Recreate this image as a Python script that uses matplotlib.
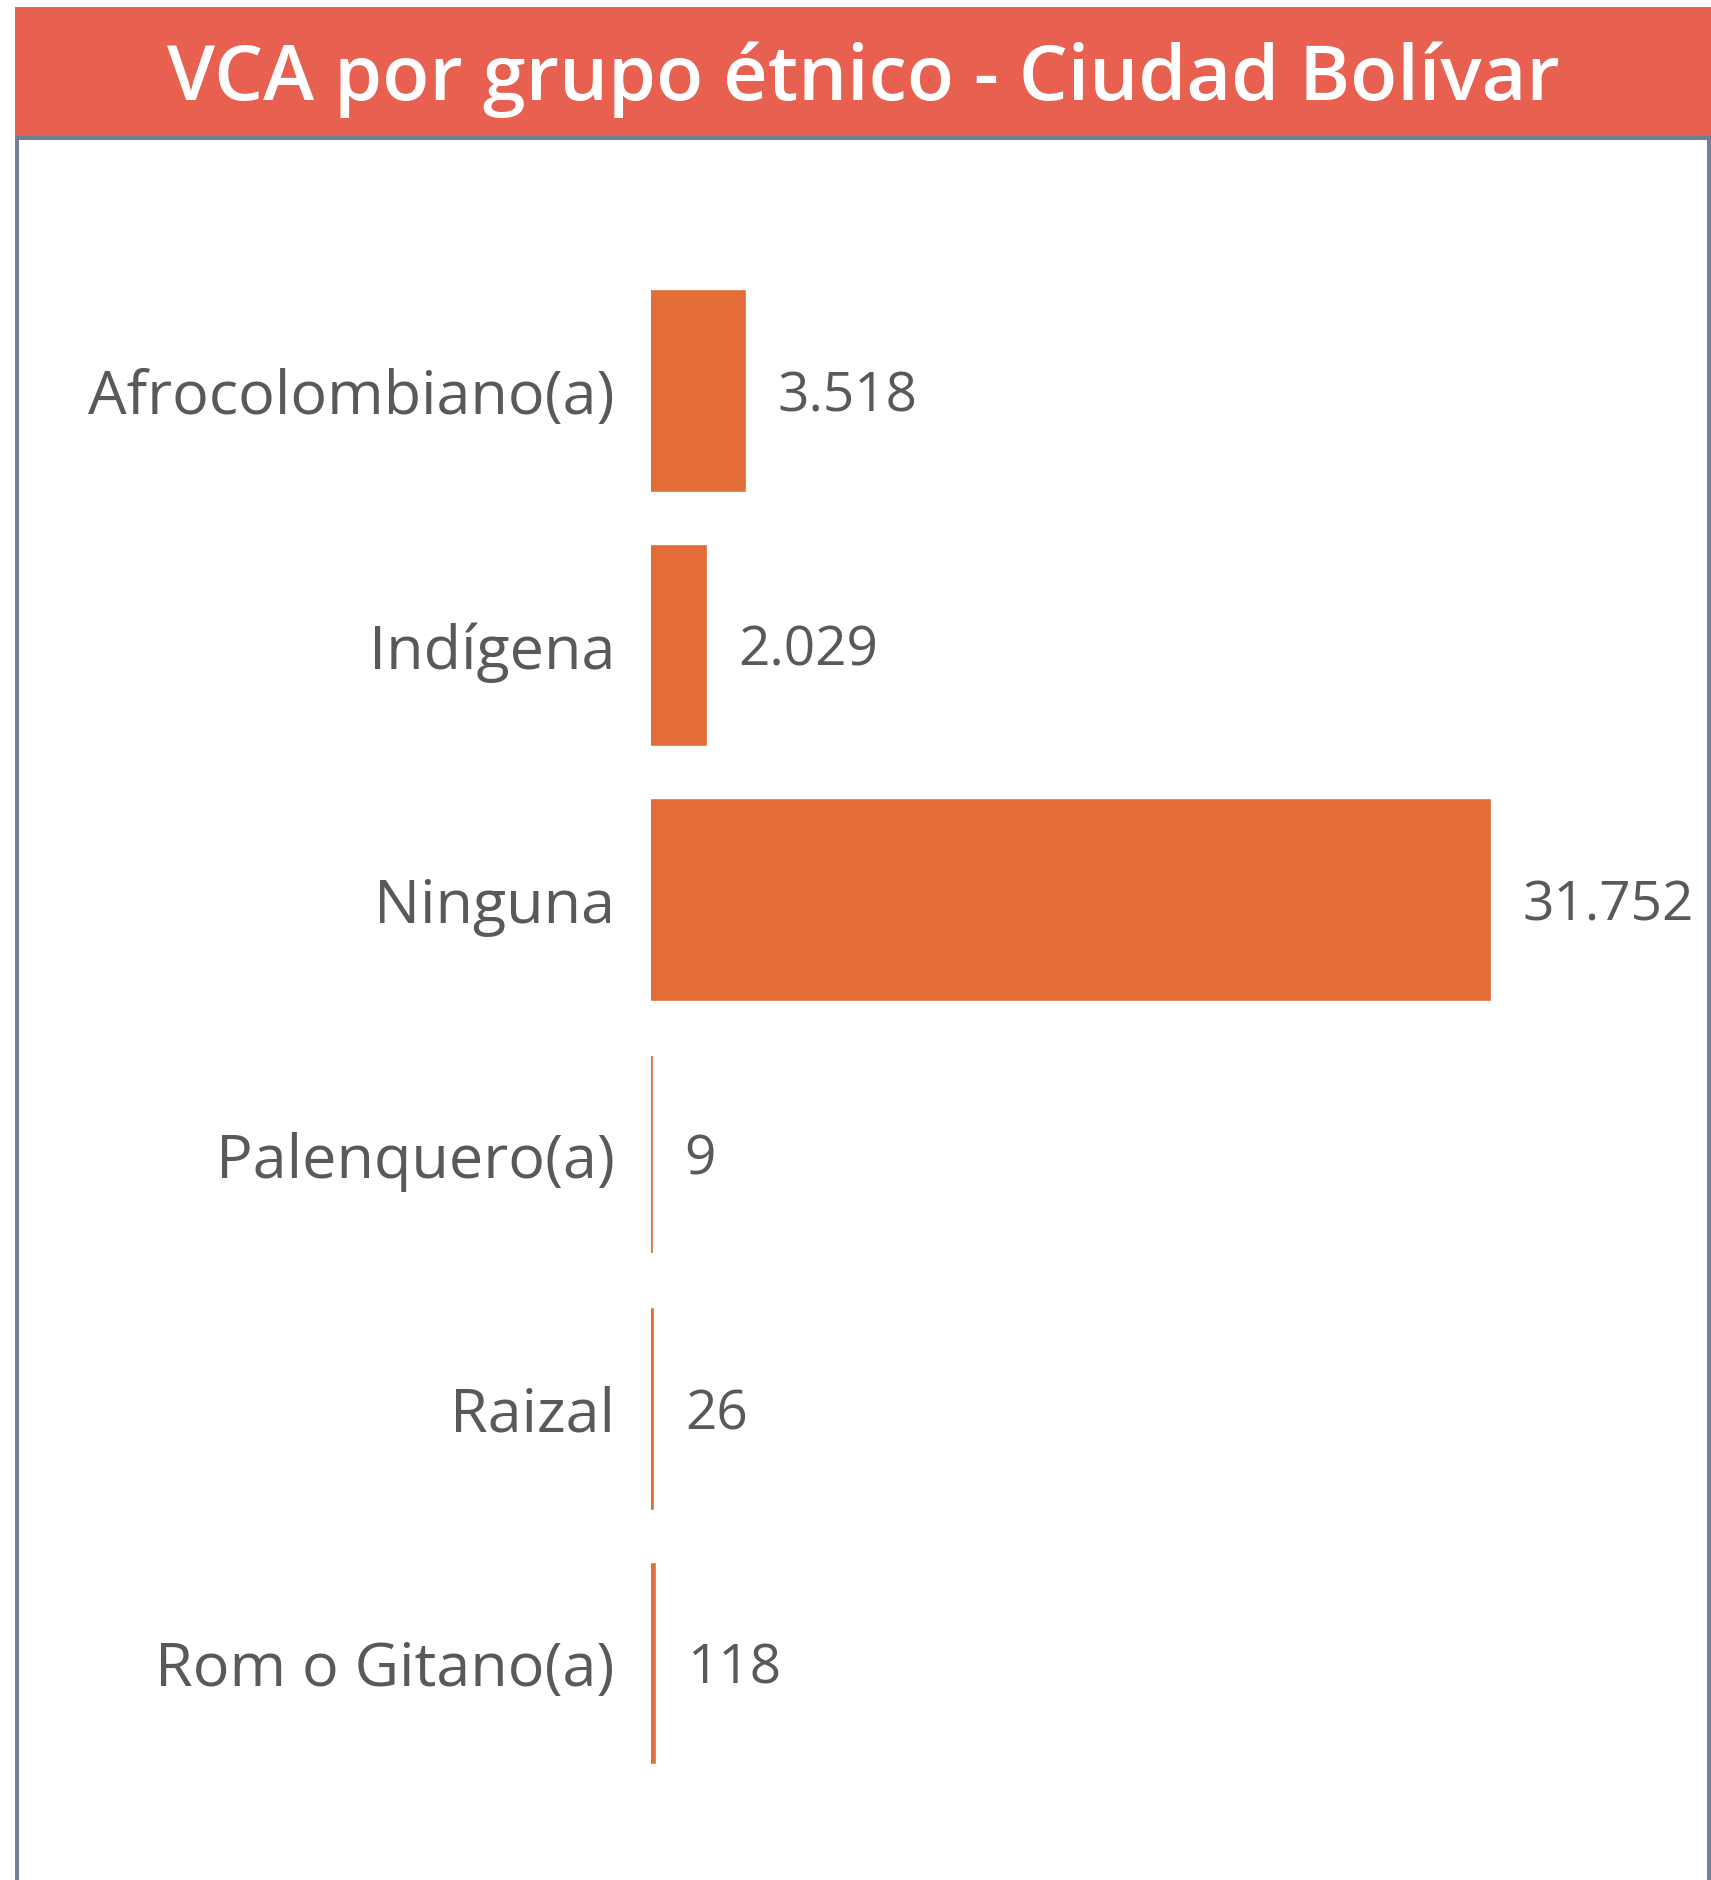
import matplotlib
matplotlib.use("Agg")
import matplotlib.pyplot as plt
from matplotlib.patches import Rectangle

categorias = ["Afrocolombiano(a)", "Indígena", "Ninguna", "Palenquero(a)", "Raizal", "Rom o Gitano(a)"]
valores = [3518, 2029, 31752, 9, 26, 118]
etiquetas = ["3.518", "2.029", "31.752", "9", "26", "118"]
titulo = "VCA por grupo étnico - Ciudad Bolívar"

W, H = 1711, 1880
plt.rcParams['font.family'] = ['Open Sans', 'DejaVu Sans']

fig = plt.figure(figsize=(W / 100, H / 100), dpi=100)
fig.patch.set_facecolor("white")

def fx(px):
    return px / W

def fy(py):
    return 1 - py / H

# barra del titulo
fig.add_artist(Rectangle((fx(15), fy(137)), fx(1711 - 15), 130 / H,
                         transform=fig.transFigure, color="#E8604F", lw=0, zorder=0))
fig.text(fx(863), fy(80), titulo, color="white", fontsize=55.5, fontweight="semibold",
         ha="center", va="center")

# marco
borde = "#6E7F9A"
fig.add_artist(Rectangle((fx(15), 0), fx(4), fy(136), transform=fig.transFigure, color=borde, lw=0))
fig.add_artist(Rectangle((fx(1707), 0), fx(4), fy(136), transform=fig.transFigure, color=borde, lw=0))
fig.add_artist(Rectangle((fx(15), fy(140)), fx(1711 - 15), 4 / H, transform=fig.transFigure, color=borde, lw=0))

# ejes
x0, x1 = 651, 1707
y_top, y_bot = 140, 1880
ax = fig.add_axes([fx(x0), 0, fx(x1 - x0), fy(y_top)])
ax.set_facecolor("none")

pos = list(range(len(categorias)))
ax.barh(pos, valores, height=0.775, color="#E46C37", edgecolor="#E46C37", linewidth=2.6)

escala = 31752 / 838  # valor por pixel
ax.set_xlim(0, (x1 - x0) * escala)
c0, paso = 391, 254.5
ax.set_ylim((y_bot - c0) / paso, (y_top - c0) / paso)

for p, v, t in zip(pos, valores, etiquetas):
    ax.annotate(t, (v, p), xytext=(24, -4), textcoords="offset points",
                ha="left", va="center", fontsize=39.5, color="#595959")

ax.set_yticks(pos)
ax.set_yticklabels(categorias, fontsize=44, color="#595959")
ax.tick_params(axis="y", length=0, pad=26)
ax.set_xticks([])
for s in ax.spines.values():
    s.set_visible(False)

fig.savefig("out.png", dpi=100)
